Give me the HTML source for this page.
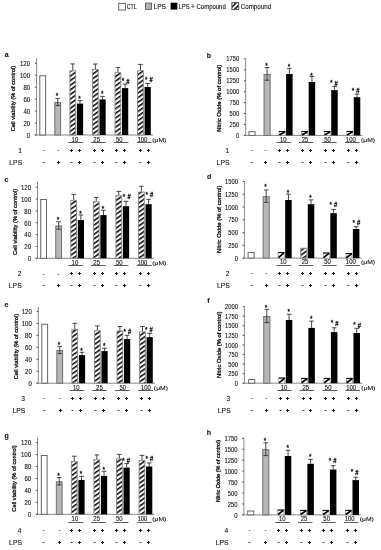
<!DOCTYPE html>
<html><head><meta charset="utf-8"><style>
html,body{margin:0;padding:0;background:#fff;}
svg{display:block;will-change:transform;}
text{font-family:"Liberation Sans", sans-serif;fill:#111;stroke:#111;stroke-width:0.1px;}
</style></head><body>
<svg width="381" height="550" viewBox="0 0 381 550">
<defs>
<pattern id="hatch" patternUnits="userSpaceOnUse" width="3.77" height="3.77" patternTransform="rotate(55)">
<rect x="0" y="0" width="3.77" height="3.77" fill="#fff"/>
<rect x="0" y="0" width="1.5" height="3.77" fill="#000"/>
</pattern>
<pattern id="hatch2" patternUnits="userSpaceOnUse" width="3.5" height="3.5" patternTransform="translate(231.9,2.6) rotate(45) translate(2.4,0)">
<rect x="0" y="0" width="3.5" height="3.5" fill="#fff"/>
<rect x="0" y="0" width="1.5" height="3.5" fill="#000"/>
</pattern>
</defs>
<rect width="381" height="550" fill="#fff"/>
<text x="4.80" y="57.20" font-size="7.0" font-weight="bold">a</text>
<line x1="36.60" y1="58.40" x2="36.60" y2="135.00" stroke="#888" stroke-width="1"/>
<line x1="34.60" y1="135.00" x2="152.98" y2="135.00" stroke="#888" stroke-width="1"/>
<line x1="34.90" y1="135.00" x2="36.60" y2="135.00" stroke="#555" stroke-width="1"/>
<text x="26.75" y="137.87" font-size="6.6" textLength="3.38" lengthAdjust="spacingAndGlyphs">0</text>
<line x1="34.90" y1="123.05" x2="36.60" y2="123.05" stroke="#555" stroke-width="1"/>
<text x="23.38" y="125.92" font-size="6.6" textLength="6.75" lengthAdjust="spacingAndGlyphs">20</text>
<line x1="34.90" y1="111.10" x2="36.60" y2="111.10" stroke="#555" stroke-width="1"/>
<text x="23.38" y="113.97" font-size="6.6" textLength="6.75" lengthAdjust="spacingAndGlyphs">40</text>
<line x1="34.90" y1="99.15" x2="36.60" y2="99.15" stroke="#555" stroke-width="1"/>
<text x="23.38" y="102.02" font-size="6.6" textLength="6.75" lengthAdjust="spacingAndGlyphs">60</text>
<line x1="34.90" y1="87.20" x2="36.60" y2="87.20" stroke="#555" stroke-width="1"/>
<text x="23.38" y="90.07" font-size="6.6" textLength="6.75" lengthAdjust="spacingAndGlyphs">80</text>
<line x1="34.90" y1="75.25" x2="36.60" y2="75.25" stroke="#555" stroke-width="1"/>
<text x="20.00" y="78.12" font-size="6.6" textLength="10.13" lengthAdjust="spacingAndGlyphs">100</text>
<line x1="34.90" y1="63.30" x2="36.60" y2="63.30" stroke="#555" stroke-width="1"/>
<text x="20.00" y="66.17" font-size="6.6" textLength="10.13" lengthAdjust="spacingAndGlyphs">120</text>
<text x="0" y="0" font-size="5.8" style="stroke-width:0.3px" text-anchor="middle" textLength="65.44" lengthAdjust="spacingAndGlyphs" transform="translate(15.46,98.50) rotate(-90)">Cell viability (% of control)</text>
<rect x="39.80" y="75.70" width="5.80" height="59.30" fill="#fff" stroke="#666" stroke-width="1"/>
<rect x="54.84" y="102.50" width="5.80" height="32.50" fill="#b6b6b6" stroke="#707070" stroke-width="1"/>
<line x1="57.74" y1="98.40" x2="57.74" y2="102.00" stroke="#333" stroke-width="0.9"/>
<line x1="55.44" y1="98.40" x2="60.04" y2="98.40" stroke="#333" stroke-width="0.9"/>
<line x1="57.74" y1="102.00" x2="57.74" y2="105.60" stroke="#333" stroke-width="0.9"/>
<line x1="55.44" y1="105.60" x2="60.04" y2="105.60" stroke="#333" stroke-width="0.9"/>
<text x="55.79" y="97.88" font-size="6.4" style="stroke-width:0.3px">*</text>
<rect x="69.88" y="70.80" width="5.80" height="64.20" fill="url(#hatch)" stroke="#888" stroke-width="0.9"/>
<line x1="72.78" y1="63.90" x2="72.78" y2="70.30" stroke="#333" stroke-width="0.9"/>
<line x1="70.48" y1="63.90" x2="75.08" y2="63.90" stroke="#333" stroke-width="0.9"/>
<rect x="76.90" y="103.60" width="6.20" height="31.40" fill="#000"/>
<line x1="80.00" y1="100.60" x2="80.00" y2="103.60" stroke="#333" stroke-width="0.9"/>
<line x1="77.70" y1="100.60" x2="82.30" y2="100.60" stroke="#333" stroke-width="0.9"/>
<text x="78.35" y="100.58" font-size="6.4" style="stroke-width:0.3px">*</text>
<text x="71.58" y="141.87" font-size="6.6" textLength="6.61" lengthAdjust="spacingAndGlyphs">10</text>
<line x1="68.20" y1="142.50" x2="83.00" y2="142.50" stroke="#333" stroke-width="0.8"/>
<path d="M69.90 150.00h3.2v1h-3.2zM71.00 148.90h1v3.2h-1z" fill="#1a1a1a"/>
<path d="M77.90 150.00h3.2v1h-3.2zM79.00 148.90h1v3.2h-1z" fill="#1a1a1a"/>
<rect x="70.55" y="162.00" width="1.90" height="1" fill="#404040"/>
<path d="M77.90 162.00h3.2v1h-3.2zM79.00 160.90h1v3.2h-1z" fill="#1a1a1a"/>
<rect x="92.44" y="69.50" width="5.80" height="65.50" fill="url(#hatch)" stroke="#888" stroke-width="0.9"/>
<line x1="95.34" y1="64.00" x2="95.34" y2="69.00" stroke="#333" stroke-width="0.9"/>
<line x1="93.04" y1="64.00" x2="97.64" y2="64.00" stroke="#333" stroke-width="0.9"/>
<rect x="99.46" y="99.40" width="6.20" height="35.60" fill="#000"/>
<line x1="102.56" y1="96.40" x2="102.56" y2="99.40" stroke="#333" stroke-width="0.9"/>
<line x1="100.26" y1="96.40" x2="104.86" y2="96.40" stroke="#333" stroke-width="0.9"/>
<text x="100.91" y="96.08" font-size="6.4" style="stroke-width:0.3px">*</text>
<text x="93.37" y="141.87" font-size="6.6" textLength="6.61" lengthAdjust="spacingAndGlyphs">25</text>
<line x1="90.90" y1="142.50" x2="105.70" y2="142.50" stroke="#333" stroke-width="0.8"/>
<path d="M92.90 150.00h3.2v1h-3.2zM94.00 148.90h1v3.2h-1z" fill="#1a1a1a"/>
<path d="M100.90 150.00h3.2v1h-3.2zM102.00 148.90h1v3.2h-1z" fill="#1a1a1a"/>
<rect x="93.55" y="162.00" width="1.90" height="1" fill="#404040"/>
<path d="M100.90 162.00h3.2v1h-3.2zM102.00 160.90h1v3.2h-1z" fill="#1a1a1a"/>
<rect x="115.00" y="72.70" width="5.80" height="62.30" fill="url(#hatch)" stroke="#888" stroke-width="0.9"/>
<line x1="117.90" y1="67.60" x2="117.90" y2="72.20" stroke="#333" stroke-width="0.9"/>
<line x1="115.60" y1="67.60" x2="120.20" y2="67.60" stroke="#333" stroke-width="0.9"/>
<rect x="122.02" y="88.10" width="6.20" height="46.90" fill="#000"/>
<line x1="125.12" y1="84.10" x2="125.12" y2="88.10" stroke="#333" stroke-width="0.9"/>
<line x1="122.82" y1="84.10" x2="127.42" y2="84.10" stroke="#333" stroke-width="0.9"/>
<text x="121.65" y="83.38" font-size="6.4" style="stroke-width:0.3px">*</text>
<text x="126.18" y="83.65" font-size="6.5" textLength="3.25" lengthAdjust="spacingAndGlyphs" style="stroke-width:0.3px">#</text>
<text x="115.99" y="141.87" font-size="6.6" textLength="6.61" lengthAdjust="spacingAndGlyphs">50</text>
<line x1="113.90" y1="142.50" x2="128.40" y2="142.50" stroke="#333" stroke-width="0.8"/>
<path d="M114.90 150.00h3.2v1h-3.2zM116.00 148.90h1v3.2h-1z" fill="#1a1a1a"/>
<path d="M122.90 150.00h3.2v1h-3.2zM124.00 148.90h1v3.2h-1z" fill="#1a1a1a"/>
<rect x="115.55" y="162.00" width="1.90" height="1" fill="#404040"/>
<path d="M122.90 162.00h3.2v1h-3.2zM124.00 160.90h1v3.2h-1z" fill="#1a1a1a"/>
<rect x="137.56" y="70.70" width="5.80" height="64.30" fill="url(#hatch)" stroke="#888" stroke-width="0.9"/>
<line x1="140.46" y1="64.40" x2="140.46" y2="70.20" stroke="#333" stroke-width="0.9"/>
<line x1="138.16" y1="64.40" x2="142.76" y2="64.40" stroke="#333" stroke-width="0.9"/>
<rect x="144.58" y="87.00" width="6.20" height="48.00" fill="#000"/>
<line x1="147.68" y1="83.50" x2="147.68" y2="87.00" stroke="#333" stroke-width="0.9"/>
<line x1="145.38" y1="83.50" x2="149.98" y2="83.50" stroke="#333" stroke-width="0.9"/>
<text x="144.95" y="81.58" font-size="6.4" style="stroke-width:0.3px">*</text>
<text x="149.48" y="81.85" font-size="6.5" textLength="3.25" lengthAdjust="spacingAndGlyphs" style="stroke-width:0.3px">#</text>
<text x="137.43" y="141.87" font-size="6.6" textLength="9.91" lengthAdjust="spacingAndGlyphs">100</text>
<line x1="136.90" y1="142.50" x2="151.70" y2="142.50" stroke="#333" stroke-width="0.8"/>
<path d="M138.90 150.00h3.2v1h-3.2zM140.00 148.90h1v3.2h-1z" fill="#1a1a1a"/>
<path d="M146.90 150.00h3.2v1h-3.2zM148.00 148.90h1v3.2h-1z" fill="#1a1a1a"/>
<rect x="139.55" y="162.00" width="1.90" height="1" fill="#404040"/>
<path d="M146.90 162.00h3.2v1h-3.2zM148.00 160.90h1v3.2h-1z" fill="#1a1a1a"/>
<text x="152.28" y="141.85" font-size="6.0" textLength="14.04" lengthAdjust="spacingAndGlyphs">(μM)</text>
<rect x="42.70" y="150.00" width="1.60" height="1" fill="#777"/>
<rect x="57.70" y="150.00" width="1.60" height="1" fill="#777"/>
<rect x="42.55" y="162.00" width="1.90" height="1" fill="#404040"/>
<path d="M56.90 162.00h3.2v1h-3.2zM58.00 160.90h1v3.2h-1z" fill="#1a1a1a"/>
<text x="18.15" y="152.57" font-size="6.6">1</text>
<text x="9.34" y="164.60" font-size="6.4" textLength="12.87" lengthAdjust="spacingAndGlyphs">LPS</text>
<text x="4.53" y="182.10" font-size="7.0" font-weight="bold">c</text>
<line x1="37.50" y1="181.70" x2="37.50" y2="258.30" stroke="#888" stroke-width="1"/>
<line x1="35.50" y1="258.30" x2="153.88" y2="258.30" stroke="#888" stroke-width="1"/>
<line x1="35.80" y1="258.30" x2="37.50" y2="258.30" stroke="#555" stroke-width="1"/>
<text x="27.65" y="261.17" font-size="6.6" textLength="3.38" lengthAdjust="spacingAndGlyphs">0</text>
<line x1="35.80" y1="246.45" x2="37.50" y2="246.45" stroke="#555" stroke-width="1"/>
<text x="24.28" y="249.32" font-size="6.6" textLength="6.75" lengthAdjust="spacingAndGlyphs">20</text>
<line x1="35.80" y1="234.60" x2="37.50" y2="234.60" stroke="#555" stroke-width="1"/>
<text x="24.28" y="237.47" font-size="6.6" textLength="6.75" lengthAdjust="spacingAndGlyphs">40</text>
<line x1="35.80" y1="222.75" x2="37.50" y2="222.75" stroke="#555" stroke-width="1"/>
<text x="24.28" y="225.63" font-size="6.6" textLength="6.75" lengthAdjust="spacingAndGlyphs">60</text>
<line x1="35.80" y1="210.91" x2="37.50" y2="210.91" stroke="#555" stroke-width="1"/>
<text x="24.28" y="213.78" font-size="6.6" textLength="6.75" lengthAdjust="spacingAndGlyphs">80</text>
<line x1="35.80" y1="199.06" x2="37.50" y2="199.06" stroke="#555" stroke-width="1"/>
<text x="20.90" y="201.93" font-size="6.6" textLength="10.13" lengthAdjust="spacingAndGlyphs">100</text>
<line x1="35.80" y1="187.21" x2="37.50" y2="187.21" stroke="#555" stroke-width="1"/>
<text x="20.90" y="190.08" font-size="6.6" textLength="10.13" lengthAdjust="spacingAndGlyphs">120</text>
<text x="0" y="0" font-size="5.8" style="stroke-width:0.3px" text-anchor="middle" textLength="66.25" lengthAdjust="spacingAndGlyphs" transform="translate(16.76,221.90) rotate(-90)">Cell viability (% of control)</text>
<rect x="40.70" y="199.50" width="5.80" height="58.80" fill="#fff" stroke="#666" stroke-width="1"/>
<rect x="55.74" y="226.00" width="5.80" height="32.30" fill="#b6b6b6" stroke="#707070" stroke-width="1"/>
<line x1="58.64" y1="221.80" x2="58.64" y2="225.50" stroke="#333" stroke-width="0.9"/>
<line x1="56.34" y1="221.80" x2="60.94" y2="221.80" stroke="#333" stroke-width="0.9"/>
<line x1="58.64" y1="225.50" x2="58.64" y2="229.20" stroke="#333" stroke-width="0.9"/>
<line x1="56.34" y1="229.20" x2="60.94" y2="229.20" stroke="#333" stroke-width="0.9"/>
<text x="56.69" y="221.68" font-size="6.4" style="stroke-width:0.3px">*</text>
<rect x="70.78" y="200.30" width="5.80" height="58.00" fill="url(#hatch)" stroke="#888" stroke-width="0.9"/>
<line x1="73.68" y1="194.40" x2="73.68" y2="199.80" stroke="#333" stroke-width="0.9"/>
<line x1="71.38" y1="194.40" x2="75.98" y2="194.40" stroke="#333" stroke-width="0.9"/>
<rect x="77.80" y="220.10" width="6.20" height="38.20" fill="#000"/>
<line x1="80.90" y1="215.00" x2="80.90" y2="220.10" stroke="#333" stroke-width="0.9"/>
<line x1="78.60" y1="215.00" x2="83.20" y2="215.00" stroke="#333" stroke-width="0.9"/>
<text x="79.25" y="215.98" font-size="6.4" style="stroke-width:0.3px">*</text>
<text x="71.58" y="264.97" font-size="6.6" textLength="6.61" lengthAdjust="spacingAndGlyphs">10</text>
<line x1="68.20" y1="265.50" x2="83.00" y2="265.50" stroke="#333" stroke-width="0.8"/>
<path d="M69.90 273.00h3.2v1h-3.2zM71.00 271.90h1v3.2h-1z" fill="#1a1a1a"/>
<path d="M77.90 273.00h3.2v1h-3.2zM79.00 271.90h1v3.2h-1z" fill="#1a1a1a"/>
<rect x="70.55" y="285.00" width="1.90" height="1" fill="#404040"/>
<path d="M77.90 285.00h3.2v1h-3.2zM79.00 283.90h1v3.2h-1z" fill="#1a1a1a"/>
<rect x="93.34" y="201.80" width="5.80" height="56.50" fill="url(#hatch)" stroke="#888" stroke-width="0.9"/>
<line x1="96.24" y1="197.40" x2="96.24" y2="201.30" stroke="#333" stroke-width="0.9"/>
<line x1="93.94" y1="197.40" x2="98.54" y2="197.40" stroke="#333" stroke-width="0.9"/>
<rect x="100.36" y="215.10" width="6.20" height="43.20" fill="#000"/>
<line x1="103.46" y1="210.30" x2="103.46" y2="215.10" stroke="#333" stroke-width="0.9"/>
<line x1="101.16" y1="210.30" x2="105.76" y2="210.30" stroke="#333" stroke-width="0.9"/>
<text x="101.81" y="210.88" font-size="6.4" style="stroke-width:0.3px">*</text>
<text x="93.37" y="264.97" font-size="6.6" textLength="6.61" lengthAdjust="spacingAndGlyphs">25</text>
<line x1="90.90" y1="265.50" x2="105.70" y2="265.50" stroke="#333" stroke-width="0.8"/>
<path d="M92.90 273.00h3.2v1h-3.2zM94.00 271.90h1v3.2h-1z" fill="#1a1a1a"/>
<path d="M100.90 273.00h3.2v1h-3.2zM102.00 271.90h1v3.2h-1z" fill="#1a1a1a"/>
<rect x="93.55" y="285.00" width="1.90" height="1" fill="#404040"/>
<path d="M100.90 285.00h3.2v1h-3.2zM102.00 283.90h1v3.2h-1z" fill="#1a1a1a"/>
<rect x="115.90" y="195.80" width="5.80" height="62.50" fill="url(#hatch)" stroke="#888" stroke-width="0.9"/>
<line x1="118.80" y1="191.40" x2="118.80" y2="195.30" stroke="#333" stroke-width="0.9"/>
<line x1="116.50" y1="191.40" x2="121.10" y2="191.40" stroke="#333" stroke-width="0.9"/>
<rect x="122.92" y="206.20" width="6.20" height="52.10" fill="#000"/>
<line x1="126.02" y1="201.30" x2="126.02" y2="206.20" stroke="#333" stroke-width="0.9"/>
<line x1="123.72" y1="201.30" x2="128.32" y2="201.30" stroke="#333" stroke-width="0.9"/>
<text x="122.85" y="199.08" font-size="6.4" style="stroke-width:0.3px">*</text>
<text x="127.38" y="199.35" font-size="6.5" textLength="3.25" lengthAdjust="spacingAndGlyphs" style="stroke-width:0.3px">#</text>
<text x="115.99" y="264.97" font-size="6.6" textLength="6.61" lengthAdjust="spacingAndGlyphs">50</text>
<line x1="113.90" y1="265.50" x2="128.40" y2="265.50" stroke="#333" stroke-width="0.8"/>
<path d="M114.90 273.00h3.2v1h-3.2zM116.00 271.90h1v3.2h-1z" fill="#1a1a1a"/>
<path d="M122.90 273.00h3.2v1h-3.2zM124.00 271.90h1v3.2h-1z" fill="#1a1a1a"/>
<rect x="115.55" y="285.00" width="1.90" height="1" fill="#404040"/>
<path d="M122.90 285.00h3.2v1h-3.2zM124.00 283.90h1v3.2h-1z" fill="#1a1a1a"/>
<rect x="138.46" y="192.00" width="5.80" height="66.30" fill="url(#hatch)" stroke="#888" stroke-width="0.9"/>
<line x1="141.36" y1="186.30" x2="141.36" y2="191.50" stroke="#333" stroke-width="0.9"/>
<line x1="139.06" y1="186.30" x2="143.66" y2="186.30" stroke="#333" stroke-width="0.9"/>
<rect x="145.48" y="204.20" width="6.20" height="54.10" fill="#000"/>
<line x1="148.58" y1="199.30" x2="148.58" y2="204.20" stroke="#333" stroke-width="0.9"/>
<line x1="146.28" y1="199.30" x2="150.88" y2="199.30" stroke="#333" stroke-width="0.9"/>
<text x="145.55" y="197.08" font-size="6.4" style="stroke-width:0.3px">*</text>
<text x="150.08" y="197.35" font-size="6.5" textLength="3.25" lengthAdjust="spacingAndGlyphs" style="stroke-width:0.3px">#</text>
<text x="137.43" y="264.97" font-size="6.6" textLength="9.91" lengthAdjust="spacingAndGlyphs">100</text>
<line x1="136.90" y1="265.50" x2="151.70" y2="265.50" stroke="#333" stroke-width="0.8"/>
<path d="M138.90 273.00h3.2v1h-3.2zM140.00 271.90h1v3.2h-1z" fill="#1a1a1a"/>
<path d="M146.90 273.00h3.2v1h-3.2zM148.00 271.90h1v3.2h-1z" fill="#1a1a1a"/>
<rect x="139.55" y="285.00" width="1.90" height="1" fill="#404040"/>
<path d="M146.90 285.00h3.2v1h-3.2zM148.00 283.90h1v3.2h-1z" fill="#1a1a1a"/>
<text x="152.28" y="264.95" font-size="6.0" textLength="14.04" lengthAdjust="spacingAndGlyphs">(μM)</text>
<rect x="42.70" y="274.00" width="1.60" height="1" fill="#777"/>
<rect x="57.70" y="274.00" width="1.60" height="1" fill="#777"/>
<rect x="42.55" y="285.00" width="1.90" height="1" fill="#404040"/>
<path d="M56.90 285.00h3.2v1h-3.2zM58.00 283.90h1v3.2h-1z" fill="#1a1a1a"/>
<text x="17.66" y="275.90" font-size="6.6">2</text>
<text x="8.84" y="287.90" font-size="6.4" textLength="12.87" lengthAdjust="spacingAndGlyphs">LPS</text>
<text x="4.53" y="306.80" font-size="7.0" font-weight="bold">e</text>
<line x1="38.30" y1="306.60" x2="38.30" y2="383.20" stroke="#888" stroke-width="1"/>
<line x1="36.30" y1="383.20" x2="154.98" y2="383.20" stroke="#888" stroke-width="1"/>
<line x1="36.60" y1="383.20" x2="38.30" y2="383.20" stroke="#555" stroke-width="1"/>
<text x="28.45" y="386.07" font-size="6.6" textLength="3.38" lengthAdjust="spacingAndGlyphs">0</text>
<line x1="36.60" y1="371.25" x2="38.30" y2="371.25" stroke="#555" stroke-width="1"/>
<text x="25.08" y="374.12" font-size="6.6" textLength="6.75" lengthAdjust="spacingAndGlyphs">20</text>
<line x1="36.60" y1="359.30" x2="38.30" y2="359.30" stroke="#555" stroke-width="1"/>
<text x="25.08" y="362.17" font-size="6.6" textLength="6.75" lengthAdjust="spacingAndGlyphs">40</text>
<line x1="36.60" y1="347.35" x2="38.30" y2="347.35" stroke="#555" stroke-width="1"/>
<text x="25.08" y="350.22" font-size="6.6" textLength="6.75" lengthAdjust="spacingAndGlyphs">60</text>
<line x1="36.60" y1="335.40" x2="38.30" y2="335.40" stroke="#555" stroke-width="1"/>
<text x="25.08" y="338.27" font-size="6.6" textLength="6.75" lengthAdjust="spacingAndGlyphs">80</text>
<line x1="36.60" y1="323.45" x2="38.30" y2="323.45" stroke="#555" stroke-width="1"/>
<text x="21.70" y="326.32" font-size="6.6" textLength="10.13" lengthAdjust="spacingAndGlyphs">100</text>
<line x1="36.60" y1="311.50" x2="38.30" y2="311.50" stroke="#555" stroke-width="1"/>
<text x="21.70" y="314.37" font-size="6.6" textLength="10.13" lengthAdjust="spacingAndGlyphs">120</text>
<text x="0" y="0" font-size="5.8" style="stroke-width:0.3px" text-anchor="middle" textLength="65.44" lengthAdjust="spacingAndGlyphs" transform="translate(17.96,346.50) rotate(-90)">Cell viability (% of control)</text>
<rect x="41.80" y="324.30" width="5.80" height="58.90" fill="#fff" stroke="#666" stroke-width="1"/>
<rect x="56.84" y="350.50" width="5.80" height="32.70" fill="#b6b6b6" stroke="#707070" stroke-width="1"/>
<line x1="59.74" y1="346.40" x2="59.74" y2="350.00" stroke="#333" stroke-width="0.9"/>
<line x1="57.44" y1="346.40" x2="62.04" y2="346.40" stroke="#333" stroke-width="0.9"/>
<line x1="59.74" y1="350.00" x2="59.74" y2="353.60" stroke="#333" stroke-width="0.9"/>
<line x1="57.44" y1="353.60" x2="62.04" y2="353.60" stroke="#333" stroke-width="0.9"/>
<text x="57.79" y="347.18" font-size="6.4" style="stroke-width:0.3px">*</text>
<rect x="71.88" y="329.30" width="5.80" height="53.90" fill="url(#hatch)" stroke="#888" stroke-width="0.9"/>
<line x1="74.78" y1="323.30" x2="74.78" y2="328.80" stroke="#333" stroke-width="0.9"/>
<line x1="72.48" y1="323.30" x2="77.08" y2="323.30" stroke="#333" stroke-width="0.9"/>
<rect x="78.90" y="355.10" width="6.20" height="28.10" fill="#000"/>
<line x1="82.00" y1="352.30" x2="82.00" y2="355.10" stroke="#333" stroke-width="0.9"/>
<line x1="79.70" y1="352.30" x2="84.30" y2="352.30" stroke="#333" stroke-width="0.9"/>
<text x="80.35" y="352.88" font-size="6.4" style="stroke-width:0.3px">*</text>
<text x="73.03" y="389.77" font-size="6.6" textLength="6.61" lengthAdjust="spacingAndGlyphs">10</text>
<line x1="69.50" y1="390.50" x2="84.30" y2="390.50" stroke="#333" stroke-width="0.8"/>
<path d="M70.90 398.00h3.2v1h-3.2zM72.00 396.90h1v3.2h-1z" fill="#1a1a1a"/>
<path d="M78.90 398.00h3.2v1h-3.2zM80.00 396.90h1v3.2h-1z" fill="#1a1a1a"/>
<rect x="71.55" y="410.00" width="1.90" height="1" fill="#404040"/>
<path d="M78.90 410.00h3.2v1h-3.2zM80.00 408.90h1v3.2h-1z" fill="#1a1a1a"/>
<rect x="94.44" y="330.70" width="5.80" height="52.50" fill="url(#hatch)" stroke="#888" stroke-width="0.9"/>
<line x1="97.34" y1="325.90" x2="97.34" y2="330.20" stroke="#333" stroke-width="0.9"/>
<line x1="95.04" y1="325.90" x2="99.64" y2="325.90" stroke="#333" stroke-width="0.9"/>
<rect x="101.46" y="351.10" width="6.20" height="32.10" fill="#000"/>
<line x1="104.56" y1="348.20" x2="104.56" y2="351.10" stroke="#333" stroke-width="0.9"/>
<line x1="102.26" y1="348.20" x2="106.86" y2="348.20" stroke="#333" stroke-width="0.9"/>
<text x="102.91" y="348.48" font-size="6.4" style="stroke-width:0.3px">*</text>
<text x="96.12" y="389.77" font-size="6.6" textLength="6.61" lengthAdjust="spacingAndGlyphs">25</text>
<line x1="92.20" y1="390.50" x2="106.70" y2="390.50" stroke="#333" stroke-width="0.8"/>
<path d="M93.90 398.00h3.2v1h-3.2zM95.00 396.90h1v3.2h-1z" fill="#1a1a1a"/>
<path d="M101.90 398.00h3.2v1h-3.2zM103.00 396.90h1v3.2h-1z" fill="#1a1a1a"/>
<rect x="94.55" y="410.00" width="1.90" height="1" fill="#404040"/>
<path d="M101.90 410.00h3.2v1h-3.2zM103.00 408.90h1v3.2h-1z" fill="#1a1a1a"/>
<rect x="117.00" y="330.90" width="5.80" height="52.30" fill="url(#hatch)" stroke="#888" stroke-width="0.9"/>
<line x1="119.90" y1="326.50" x2="119.90" y2="330.40" stroke="#333" stroke-width="0.9"/>
<line x1="117.60" y1="326.50" x2="122.20" y2="326.50" stroke="#333" stroke-width="0.9"/>
<rect x="124.02" y="339.10" width="6.20" height="44.10" fill="#000"/>
<line x1="127.12" y1="335.30" x2="127.12" y2="339.10" stroke="#333" stroke-width="0.9"/>
<line x1="124.82" y1="335.30" x2="129.42" y2="335.30" stroke="#333" stroke-width="0.9"/>
<text x="123.55" y="333.68" font-size="6.4" style="stroke-width:0.3px">*</text>
<text x="128.08" y="333.95" font-size="6.5" textLength="3.25" lengthAdjust="spacingAndGlyphs" style="stroke-width:0.3px">#</text>
<text x="119.44" y="389.77" font-size="6.6" textLength="6.61" lengthAdjust="spacingAndGlyphs">50</text>
<line x1="115.20" y1="390.50" x2="129.70" y2="390.50" stroke="#333" stroke-width="0.8"/>
<path d="M116.90 398.00h3.2v1h-3.2zM118.00 396.90h1v3.2h-1z" fill="#1a1a1a"/>
<path d="M124.90 398.00h3.2v1h-3.2zM126.00 396.90h1v3.2h-1z" fill="#1a1a1a"/>
<rect x="117.55" y="410.00" width="1.90" height="1" fill="#404040"/>
<path d="M124.90 410.00h3.2v1h-3.2zM126.00 408.90h1v3.2h-1z" fill="#1a1a1a"/>
<rect x="139.56" y="331.90" width="5.80" height="51.30" fill="url(#hatch)" stroke="#888" stroke-width="0.9"/>
<line x1="142.46" y1="326.50" x2="142.46" y2="331.40" stroke="#333" stroke-width="0.9"/>
<line x1="140.16" y1="326.50" x2="144.76" y2="326.50" stroke="#333" stroke-width="0.9"/>
<rect x="146.58" y="337.10" width="6.20" height="46.10" fill="#000"/>
<line x1="149.68" y1="333.30" x2="149.68" y2="337.10" stroke="#333" stroke-width="0.9"/>
<line x1="147.38" y1="333.30" x2="151.98" y2="333.30" stroke="#333" stroke-width="0.9"/>
<text x="145.05" y="331.98" font-size="6.4" style="stroke-width:0.3px">*</text>
<text x="149.58" y="332.25" font-size="6.5" textLength="3.25" lengthAdjust="spacingAndGlyphs" style="stroke-width:0.3px">#</text>
<text x="141.03" y="389.77" font-size="6.6" textLength="9.91" lengthAdjust="spacingAndGlyphs">100</text>
<line x1="138.20" y1="390.50" x2="153.30" y2="390.50" stroke="#333" stroke-width="0.8"/>
<path d="M139.90 398.00h3.2v1h-3.2zM141.00 396.90h1v3.2h-1z" fill="#1a1a1a"/>
<path d="M147.90 398.00h3.2v1h-3.2zM149.00 396.90h1v3.2h-1z" fill="#1a1a1a"/>
<rect x="140.55" y="410.00" width="1.90" height="1" fill="#404040"/>
<path d="M147.90 410.00h3.2v1h-3.2zM149.00 408.90h1v3.2h-1z" fill="#1a1a1a"/>
<text x="153.88" y="389.75" font-size="6.0" textLength="14.04" lengthAdjust="spacingAndGlyphs">(μM)</text>
<rect x="43.70" y="398.00" width="1.60" height="1" fill="#777"/>
<rect x="59.70" y="398.00" width="1.60" height="1" fill="#777"/>
<rect x="43.55" y="410.00" width="1.90" height="1" fill="#404040"/>
<path d="M58.90 410.00h3.2v1h-3.2zM60.00 408.90h1v3.2h-1z" fill="#1a1a1a"/>
<text x="21.21" y="400.77" font-size="6.6">3</text>
<text x="12.44" y="412.80" font-size="6.4" textLength="12.87" lengthAdjust="spacingAndGlyphs">LPS</text>
<text x="4.51" y="437.60" font-size="7.0" font-weight="bold">g</text>
<line x1="37.60" y1="437.70" x2="37.60" y2="514.30" stroke="#888" stroke-width="1"/>
<line x1="35.60" y1="514.30" x2="154.48" y2="514.30" stroke="#888" stroke-width="1"/>
<line x1="35.90" y1="514.30" x2="37.60" y2="514.30" stroke="#555" stroke-width="1"/>
<text x="27.75" y="517.17" font-size="6.6" textLength="3.38" lengthAdjust="spacingAndGlyphs">0</text>
<line x1="35.90" y1="502.35" x2="37.60" y2="502.35" stroke="#555" stroke-width="1"/>
<text x="24.38" y="505.22" font-size="6.6" textLength="6.75" lengthAdjust="spacingAndGlyphs">20</text>
<line x1="35.90" y1="490.40" x2="37.60" y2="490.40" stroke="#555" stroke-width="1"/>
<text x="24.38" y="493.27" font-size="6.6" textLength="6.75" lengthAdjust="spacingAndGlyphs">40</text>
<line x1="35.90" y1="478.45" x2="37.60" y2="478.45" stroke="#555" stroke-width="1"/>
<text x="24.38" y="481.32" font-size="6.6" textLength="6.75" lengthAdjust="spacingAndGlyphs">60</text>
<line x1="35.90" y1="466.50" x2="37.60" y2="466.50" stroke="#555" stroke-width="1"/>
<text x="24.38" y="469.37" font-size="6.6" textLength="6.75" lengthAdjust="spacingAndGlyphs">80</text>
<line x1="35.90" y1="454.55" x2="37.60" y2="454.55" stroke="#555" stroke-width="1"/>
<text x="21.00" y="457.42" font-size="6.6" textLength="10.13" lengthAdjust="spacingAndGlyphs">100</text>
<line x1="35.90" y1="442.60" x2="37.60" y2="442.60" stroke="#555" stroke-width="1"/>
<text x="21.00" y="445.47" font-size="6.6" textLength="10.13" lengthAdjust="spacingAndGlyphs">120</text>
<text x="0" y="0" font-size="5.8" style="stroke-width:0.3px" text-anchor="middle" textLength="66.35" lengthAdjust="spacingAndGlyphs" transform="translate(15.71,478.50) rotate(-90)">Cell viability (% of control)</text>
<rect x="41.30" y="455.50" width="5.80" height="58.80" fill="#fff" stroke="#666" stroke-width="1"/>
<rect x="56.34" y="481.80" width="5.80" height="32.50" fill="#b6b6b6" stroke="#707070" stroke-width="1"/>
<line x1="59.24" y1="477.60" x2="59.24" y2="481.30" stroke="#333" stroke-width="0.9"/>
<line x1="56.94" y1="477.60" x2="61.54" y2="477.60" stroke="#333" stroke-width="0.9"/>
<line x1="59.24" y1="481.30" x2="59.24" y2="485.00" stroke="#333" stroke-width="0.9"/>
<line x1="56.94" y1="485.00" x2="61.54" y2="485.00" stroke="#333" stroke-width="0.9"/>
<text x="57.29" y="478.18" font-size="6.4" style="stroke-width:0.3px">*</text>
<rect x="71.38" y="461.60" width="5.80" height="52.70" fill="url(#hatch)" stroke="#888" stroke-width="0.9"/>
<line x1="74.28" y1="456.20" x2="74.28" y2="461.10" stroke="#333" stroke-width="0.9"/>
<line x1="71.98" y1="456.20" x2="76.58" y2="456.20" stroke="#333" stroke-width="0.9"/>
<rect x="78.40" y="480.00" width="6.20" height="34.30" fill="#000"/>
<line x1="81.50" y1="476.30" x2="81.50" y2="480.00" stroke="#333" stroke-width="0.9"/>
<line x1="79.20" y1="476.30" x2="83.80" y2="476.30" stroke="#333" stroke-width="0.9"/>
<text x="79.85" y="476.28" font-size="6.4" style="stroke-width:0.3px">*</text>
<text x="71.58" y="521.27" font-size="6.6" textLength="6.61" lengthAdjust="spacingAndGlyphs">10</text>
<line x1="68.20" y1="522.50" x2="83.00" y2="522.50" stroke="#333" stroke-width="0.8"/>
<path d="M69.90 530.00h3.2v1h-3.2zM71.00 528.90h1v3.2h-1z" fill="#1a1a1a"/>
<path d="M77.90 530.00h3.2v1h-3.2zM79.00 528.90h1v3.2h-1z" fill="#1a1a1a"/>
<rect x="70.55" y="542.00" width="1.90" height="1" fill="#404040"/>
<path d="M77.90 542.00h3.2v1h-3.2zM79.00 540.90h1v3.2h-1z" fill="#1a1a1a"/>
<rect x="93.94" y="459.80" width="5.80" height="54.50" fill="url(#hatch)" stroke="#888" stroke-width="0.9"/>
<line x1="96.84" y1="454.90" x2="96.84" y2="459.30" stroke="#333" stroke-width="0.9"/>
<line x1="94.54" y1="454.90" x2="99.14" y2="454.90" stroke="#333" stroke-width="0.9"/>
<rect x="100.96" y="475.90" width="6.20" height="38.40" fill="#000"/>
<line x1="104.06" y1="471.30" x2="104.06" y2="475.90" stroke="#333" stroke-width="0.9"/>
<line x1="101.76" y1="471.30" x2="106.36" y2="471.30" stroke="#333" stroke-width="0.9"/>
<text x="102.41" y="471.78" font-size="6.4" style="stroke-width:0.3px">*</text>
<text x="93.37" y="521.27" font-size="6.6" textLength="6.61" lengthAdjust="spacingAndGlyphs">25</text>
<line x1="90.90" y1="522.50" x2="105.70" y2="522.50" stroke="#333" stroke-width="0.8"/>
<path d="M92.90 530.00h3.2v1h-3.2zM94.00 528.90h1v3.2h-1z" fill="#1a1a1a"/>
<path d="M100.90 530.00h3.2v1h-3.2zM102.00 528.90h1v3.2h-1z" fill="#1a1a1a"/>
<rect x="93.55" y="542.00" width="1.90" height="1" fill="#404040"/>
<path d="M100.90 542.00h3.2v1h-3.2zM102.00 540.90h1v3.2h-1z" fill="#1a1a1a"/>
<rect x="116.50" y="458.90" width="5.80" height="55.40" fill="url(#hatch)" stroke="#888" stroke-width="0.9"/>
<line x1="119.40" y1="454.40" x2="119.40" y2="458.40" stroke="#333" stroke-width="0.9"/>
<line x1="117.10" y1="454.40" x2="121.70" y2="454.40" stroke="#333" stroke-width="0.9"/>
<rect x="123.52" y="467.60" width="6.20" height="46.70" fill="#000"/>
<line x1="126.62" y1="463.60" x2="126.62" y2="467.60" stroke="#333" stroke-width="0.9"/>
<line x1="124.32" y1="463.60" x2="128.92" y2="463.60" stroke="#333" stroke-width="0.9"/>
<text x="122.15" y="462.78" font-size="6.4" style="stroke-width:0.3px">*</text>
<text x="126.68" y="463.05" font-size="6.5" textLength="3.25" lengthAdjust="spacingAndGlyphs" style="stroke-width:0.3px">#</text>
<text x="115.99" y="521.27" font-size="6.6" textLength="6.61" lengthAdjust="spacingAndGlyphs">50</text>
<line x1="113.90" y1="522.50" x2="128.40" y2="522.50" stroke="#333" stroke-width="0.8"/>
<path d="M114.90 530.00h3.2v1h-3.2zM116.00 528.90h1v3.2h-1z" fill="#1a1a1a"/>
<path d="M122.90 530.00h3.2v1h-3.2zM124.00 528.90h1v3.2h-1z" fill="#1a1a1a"/>
<rect x="115.55" y="542.00" width="1.90" height="1" fill="#404040"/>
<path d="M122.90 542.00h3.2v1h-3.2zM124.00 540.90h1v3.2h-1z" fill="#1a1a1a"/>
<rect x="139.06" y="460.60" width="5.80" height="53.70" fill="url(#hatch)" stroke="#888" stroke-width="0.9"/>
<line x1="141.96" y1="455.40" x2="141.96" y2="460.10" stroke="#333" stroke-width="0.9"/>
<line x1="139.66" y1="455.40" x2="144.26" y2="455.40" stroke="#333" stroke-width="0.9"/>
<rect x="146.08" y="466.50" width="6.20" height="47.80" fill="#000"/>
<line x1="149.18" y1="463.00" x2="149.18" y2="466.50" stroke="#333" stroke-width="0.9"/>
<line x1="146.88" y1="463.00" x2="151.48" y2="463.00" stroke="#333" stroke-width="0.9"/>
<text x="145.45" y="461.08" font-size="6.4" style="stroke-width:0.3px">*</text>
<text x="149.98" y="461.35" font-size="6.5" textLength="3.25" lengthAdjust="spacingAndGlyphs" style="stroke-width:0.3px">#</text>
<text x="137.43" y="521.27" font-size="6.6" textLength="9.91" lengthAdjust="spacingAndGlyphs">100</text>
<line x1="136.90" y1="522.50" x2="151.70" y2="522.50" stroke="#333" stroke-width="0.8"/>
<path d="M138.90 530.00h3.2v1h-3.2zM140.00 528.90h1v3.2h-1z" fill="#1a1a1a"/>
<path d="M146.90 530.00h3.2v1h-3.2zM148.00 528.90h1v3.2h-1z" fill="#1a1a1a"/>
<rect x="139.55" y="542.00" width="1.90" height="1" fill="#404040"/>
<path d="M146.90 542.00h3.2v1h-3.2zM148.00 540.90h1v3.2h-1z" fill="#1a1a1a"/>
<text x="152.28" y="521.25" font-size="6.0" textLength="14.04" lengthAdjust="spacingAndGlyphs">(μM)</text>
<rect x="42.70" y="530.00" width="1.60" height="1" fill="#777"/>
<rect x="58.70" y="530.00" width="1.60" height="1" fill="#777"/>
<rect x="42.55" y="542.00" width="1.90" height="1" fill="#404040"/>
<path d="M57.90 542.00h3.2v1h-3.2zM59.00 540.90h1v3.2h-1z" fill="#1a1a1a"/>
<text x="17.82" y="532.57" font-size="6.6">4</text>
<text x="9.14" y="544.50" font-size="6.4" textLength="12.87" lengthAdjust="spacingAndGlyphs">LPS</text>
<text x="206.74" y="57.70" font-size="7.0" font-weight="bold">b</text>
<line x1="245.70" y1="58.80" x2="245.70" y2="135.40" stroke="#888" stroke-width="1"/>
<line x1="243.70" y1="135.40" x2="362.48" y2="135.40" stroke="#888" stroke-width="1"/>
<line x1="244.00" y1="135.40" x2="245.70" y2="135.40" stroke="#555" stroke-width="1"/>
<text x="236.01" y="138.04" font-size="6.8" textLength="3.21" lengthAdjust="spacingAndGlyphs">0</text>
<line x1="244.00" y1="124.46" x2="245.70" y2="124.46" stroke="#555" stroke-width="1"/>
<text x="229.58" y="127.10" font-size="6.8" textLength="9.64" lengthAdjust="spacingAndGlyphs">250</text>
<line x1="244.00" y1="113.51" x2="245.70" y2="113.51" stroke="#555" stroke-width="1"/>
<text x="229.58" y="116.15" font-size="6.8" textLength="9.64" lengthAdjust="spacingAndGlyphs">500</text>
<line x1="244.00" y1="102.57" x2="245.70" y2="102.57" stroke="#555" stroke-width="1"/>
<text x="229.58" y="105.21" font-size="6.8" textLength="9.64" lengthAdjust="spacingAndGlyphs">750</text>
<line x1="244.00" y1="91.63" x2="245.70" y2="91.63" stroke="#555" stroke-width="1"/>
<text x="226.36" y="94.27" font-size="6.8" textLength="12.86" lengthAdjust="spacingAndGlyphs">1000</text>
<line x1="244.00" y1="80.69" x2="245.70" y2="80.69" stroke="#555" stroke-width="1"/>
<text x="226.36" y="83.32" font-size="6.8" textLength="12.86" lengthAdjust="spacingAndGlyphs">1250</text>
<line x1="244.00" y1="69.74" x2="245.70" y2="69.74" stroke="#555" stroke-width="1"/>
<text x="226.36" y="72.38" font-size="6.8" textLength="12.86" lengthAdjust="spacingAndGlyphs">1500</text>
<line x1="244.00" y1="58.80" x2="245.70" y2="58.80" stroke="#555" stroke-width="1"/>
<text x="226.36" y="61.44" font-size="6.8" textLength="12.86" lengthAdjust="spacingAndGlyphs">1750</text>
<text x="0" y="0" font-size="5.8" style="stroke-width:0.3px" text-anchor="middle" textLength="67.05" lengthAdjust="spacingAndGlyphs" transform="translate(221.26,98.25) rotate(-90)">Nitric Oxide (% of control)</text>
<rect x="249.00" y="131.70" width="6.10" height="3.70" fill="#fff" stroke="#666" stroke-width="1"/>
<rect x="264.04" y="74.40" width="6.10" height="61.00" fill="#b6b6b6" stroke="#707070" stroke-width="1"/>
<line x1="267.09" y1="67.60" x2="267.09" y2="73.90" stroke="#333" stroke-width="0.9"/>
<line x1="264.79" y1="67.60" x2="269.39" y2="67.60" stroke="#333" stroke-width="0.9"/>
<line x1="267.09" y1="73.90" x2="267.09" y2="80.20" stroke="#333" stroke-width="0.9"/>
<line x1="264.79" y1="80.20" x2="269.39" y2="80.20" stroke="#333" stroke-width="0.9"/>
<text x="265.14" y="68.08" font-size="6.4" style="stroke-width:0.3px">*</text>
<rect x="279.08" y="131.50" width="6.10" height="3.90" fill="#fff" stroke="#999" stroke-width="0.8"/>
<line x1="278.88" y1="131.50" x2="285.38" y2="131.50" stroke="#111" stroke-width="1.1"/>
<line x1="279.38" y1="135.00" x2="284.68" y2="131.90" stroke="#000" stroke-width="1.7"/>
<rect x="286.10" y="74.00" width="6.50" height="61.40" fill="#000"/>
<line x1="289.35" y1="68.40" x2="289.35" y2="74.00" stroke="#333" stroke-width="0.9"/>
<line x1="287.05" y1="68.40" x2="291.65" y2="68.40" stroke="#333" stroke-width="0.9"/>
<text x="287.70" y="68.88" font-size="6.4" style="stroke-width:0.3px">*</text>
<text x="279.88" y="141.67" font-size="6.6" textLength="6.61" lengthAdjust="spacingAndGlyphs">10</text>
<line x1="276.60" y1="142.50" x2="291.00" y2="142.50" stroke="#333" stroke-width="0.8"/>
<path d="M277.90 150.00h3.2v1h-3.2zM279.00 148.90h1v3.2h-1z" fill="#1a1a1a"/>
<path d="M285.90 150.00h3.2v1h-3.2zM287.00 148.90h1v3.2h-1z" fill="#1a1a1a"/>
<rect x="278.55" y="162.00" width="1.90" height="1" fill="#404040"/>
<path d="M285.90 162.00h3.2v1h-3.2zM287.00 160.90h1v3.2h-1z" fill="#1a1a1a"/>
<rect x="301.64" y="131.50" width="6.10" height="3.90" fill="#fff" stroke="#999" stroke-width="0.8"/>
<line x1="301.44" y1="131.50" x2="307.94" y2="131.50" stroke="#111" stroke-width="1.1"/>
<line x1="301.94" y1="135.00" x2="307.24" y2="131.90" stroke="#000" stroke-width="1.7"/>
<rect x="308.66" y="82.00" width="6.50" height="53.40" fill="#000"/>
<line x1="311.91" y1="76.40" x2="311.91" y2="82.00" stroke="#333" stroke-width="0.9"/>
<line x1="309.61" y1="76.40" x2="314.21" y2="76.40" stroke="#333" stroke-width="0.9"/>
<text x="310.26" y="77.68" font-size="6.4" style="stroke-width:0.3px">*</text>
<text x="301.67" y="141.67" font-size="6.6" textLength="6.61" lengthAdjust="spacingAndGlyphs">25</text>
<line x1="298.90" y1="142.50" x2="313.30" y2="142.50" stroke="#333" stroke-width="0.8"/>
<path d="M300.90 150.00h3.2v1h-3.2zM302.00 148.90h1v3.2h-1z" fill="#1a1a1a"/>
<path d="M308.90 150.00h3.2v1h-3.2zM310.00 148.90h1v3.2h-1z" fill="#1a1a1a"/>
<rect x="301.55" y="162.00" width="1.90" height="1" fill="#404040"/>
<path d="M308.90 162.00h3.2v1h-3.2zM310.00 160.90h1v3.2h-1z" fill="#1a1a1a"/>
<rect x="324.20" y="131.50" width="6.10" height="3.90" fill="#fff" stroke="#999" stroke-width="0.8"/>
<line x1="324.00" y1="131.50" x2="330.50" y2="131.50" stroke="#111" stroke-width="1.1"/>
<line x1="324.50" y1="135.00" x2="329.80" y2="131.90" stroke="#000" stroke-width="1.7"/>
<rect x="331.22" y="90.10" width="6.50" height="45.30" fill="#000"/>
<line x1="334.47" y1="86.40" x2="334.47" y2="90.10" stroke="#333" stroke-width="0.9"/>
<line x1="332.17" y1="86.40" x2="336.77" y2="86.40" stroke="#333" stroke-width="0.9"/>
<text x="329.95" y="85.48" font-size="6.4" style="stroke-width:0.3px">*</text>
<text x="334.48" y="85.75" font-size="6.5" textLength="3.25" lengthAdjust="spacingAndGlyphs" style="stroke-width:0.3px">#</text>
<text x="324.29" y="141.67" font-size="6.6" textLength="6.61" lengthAdjust="spacingAndGlyphs">50</text>
<line x1="322.20" y1="142.50" x2="336.60" y2="142.50" stroke="#333" stroke-width="0.8"/>
<path d="M323.90 150.00h3.2v1h-3.2zM325.00 148.90h1v3.2h-1z" fill="#1a1a1a"/>
<path d="M331.90 150.00h3.2v1h-3.2zM333.00 148.90h1v3.2h-1z" fill="#1a1a1a"/>
<rect x="324.55" y="162.00" width="1.90" height="1" fill="#404040"/>
<path d="M331.90 162.00h3.2v1h-3.2zM333.00 160.90h1v3.2h-1z" fill="#1a1a1a"/>
<rect x="346.76" y="131.50" width="6.10" height="3.90" fill="#fff" stroke="#999" stroke-width="0.8"/>
<line x1="346.56" y1="131.50" x2="353.06" y2="131.50" stroke="#111" stroke-width="1.1"/>
<line x1="347.06" y1="135.00" x2="352.36" y2="131.90" stroke="#000" stroke-width="1.7"/>
<rect x="353.78" y="97.20" width="6.50" height="38.20" fill="#000"/>
<line x1="357.03" y1="94.10" x2="357.03" y2="97.20" stroke="#333" stroke-width="0.9"/>
<line x1="354.73" y1="94.10" x2="359.33" y2="94.10" stroke="#333" stroke-width="0.9"/>
<text x="351.75" y="92.58" font-size="6.4" style="stroke-width:0.3px">*</text>
<text x="356.28" y="92.85" font-size="6.5" textLength="3.25" lengthAdjust="spacingAndGlyphs" style="stroke-width:0.3px">#</text>
<text x="345.83" y="141.67" font-size="6.6" textLength="9.91" lengthAdjust="spacingAndGlyphs">100</text>
<line x1="344.90" y1="142.50" x2="359.70" y2="142.50" stroke="#333" stroke-width="0.8"/>
<path d="M346.90 150.00h3.2v1h-3.2zM348.00 148.90h1v3.2h-1z" fill="#1a1a1a"/>
<path d="M354.90 150.00h3.2v1h-3.2zM356.00 148.90h1v3.2h-1z" fill="#1a1a1a"/>
<rect x="347.55" y="162.00" width="1.90" height="1" fill="#404040"/>
<path d="M354.90 162.00h3.2v1h-3.2zM356.00 160.90h1v3.2h-1z" fill="#1a1a1a"/>
<text x="361.08" y="141.65" font-size="6.0" textLength="14.04" lengthAdjust="spacingAndGlyphs">(μM)</text>
<rect x="250.70" y="150.00" width="1.60" height="1" fill="#777"/>
<rect x="264.70" y="150.00" width="1.60" height="1" fill="#777"/>
<rect x="250.55" y="162.00" width="1.90" height="1" fill="#404040"/>
<path d="M263.90 162.00h3.2v1h-3.2zM265.00 160.90h1v3.2h-1z" fill="#1a1a1a"/>
<text x="225.45" y="152.77" font-size="6.6">1</text>
<text x="216.64" y="164.50" font-size="6.4" textLength="12.87" lengthAdjust="spacingAndGlyphs">LPS</text>
<text x="207.01" y="179.10" font-size="7.0" font-weight="bold">d</text>
<line x1="244.40" y1="181.50" x2="244.40" y2="258.10" stroke="#888" stroke-width="1"/>
<line x1="242.40" y1="258.10" x2="361.58" y2="258.10" stroke="#888" stroke-width="1"/>
<line x1="242.70" y1="258.10" x2="244.40" y2="258.10" stroke="#555" stroke-width="1"/>
<text x="234.71" y="260.74" font-size="6.8" textLength="3.21" lengthAdjust="spacingAndGlyphs">0</text>
<line x1="242.70" y1="245.33" x2="244.40" y2="245.33" stroke="#555" stroke-width="1"/>
<text x="228.28" y="247.97" font-size="6.8" textLength="9.64" lengthAdjust="spacingAndGlyphs">250</text>
<line x1="242.70" y1="232.57" x2="244.40" y2="232.57" stroke="#555" stroke-width="1"/>
<text x="228.28" y="235.21" font-size="6.8" textLength="9.64" lengthAdjust="spacingAndGlyphs">500</text>
<line x1="242.70" y1="219.80" x2="244.40" y2="219.80" stroke="#555" stroke-width="1"/>
<text x="228.28" y="222.44" font-size="6.8" textLength="9.64" lengthAdjust="spacingAndGlyphs">750</text>
<line x1="242.70" y1="207.03" x2="244.40" y2="207.03" stroke="#555" stroke-width="1"/>
<text x="225.06" y="209.67" font-size="6.8" textLength="12.86" lengthAdjust="spacingAndGlyphs">1000</text>
<line x1="242.70" y1="194.27" x2="244.40" y2="194.27" stroke="#555" stroke-width="1"/>
<text x="225.06" y="196.91" font-size="6.8" textLength="12.86" lengthAdjust="spacingAndGlyphs">1250</text>
<line x1="242.70" y1="181.50" x2="244.40" y2="181.50" stroke="#555" stroke-width="1"/>
<text x="225.06" y="184.14" font-size="6.8" textLength="12.86" lengthAdjust="spacingAndGlyphs">1500</text>
<text x="0" y="0" font-size="5.8" style="stroke-width:0.3px" text-anchor="middle" textLength="67.35" lengthAdjust="spacingAndGlyphs" transform="translate(220.86,219.30) rotate(-90)">Nitric Oxide (% of control)</text>
<rect x="248.10" y="252.50" width="6.10" height="5.60" fill="#fff" stroke="#666" stroke-width="1"/>
<rect x="263.14" y="196.70" width="6.10" height="61.40" fill="#b6b6b6" stroke="#707070" stroke-width="1"/>
<line x1="266.19" y1="190.00" x2="266.19" y2="196.20" stroke="#333" stroke-width="0.9"/>
<line x1="263.89" y1="190.00" x2="268.49" y2="190.00" stroke="#333" stroke-width="0.9"/>
<line x1="266.19" y1="196.20" x2="266.19" y2="202.40" stroke="#333" stroke-width="0.9"/>
<line x1="263.89" y1="202.40" x2="268.49" y2="202.40" stroke="#333" stroke-width="0.9"/>
<text x="264.24" y="189.28" font-size="6.4" style="stroke-width:0.3px">*</text>
<rect x="278.18" y="252.50" width="6.10" height="5.60" fill="#fff" stroke="#999" stroke-width="0.8"/>
<line x1="277.98" y1="252.50" x2="284.48" y2="252.50" stroke="#111" stroke-width="1.1"/>
<line x1="278.48" y1="257.70" x2="283.78" y2="252.90" stroke="#000" stroke-width="1.7"/>
<rect x="285.20" y="200.00" width="6.50" height="58.10" fill="#000"/>
<line x1="288.45" y1="194.10" x2="288.45" y2="200.00" stroke="#333" stroke-width="0.9"/>
<line x1="286.15" y1="194.10" x2="290.75" y2="194.10" stroke="#333" stroke-width="0.9"/>
<text x="286.80" y="194.78" font-size="6.4" style="stroke-width:0.3px">*</text>
<text x="279.88" y="264.37" font-size="6.6" textLength="6.61" lengthAdjust="spacingAndGlyphs">10</text>
<line x1="276.60" y1="265.50" x2="291.00" y2="265.50" stroke="#333" stroke-width="0.8"/>
<path d="M277.90 273.00h3.2v1h-3.2zM279.00 271.90h1v3.2h-1z" fill="#1a1a1a"/>
<path d="M285.90 273.00h3.2v1h-3.2zM287.00 271.90h1v3.2h-1z" fill="#1a1a1a"/>
<rect x="278.55" y="285.00" width="1.90" height="1" fill="#404040"/>
<path d="M285.90 285.00h3.2v1h-3.2zM287.00 283.90h1v3.2h-1z" fill="#1a1a1a"/>
<rect x="300.74" y="248.20" width="6.10" height="9.90" fill="url(#hatch)" stroke="#888" stroke-width="0.9"/>
<rect x="307.76" y="204.20" width="6.50" height="53.90" fill="#000"/>
<line x1="311.01" y1="199.90" x2="311.01" y2="204.20" stroke="#333" stroke-width="0.9"/>
<line x1="308.71" y1="199.90" x2="313.31" y2="199.90" stroke="#333" stroke-width="0.9"/>
<text x="309.36" y="199.68" font-size="6.4" style="stroke-width:0.3px">*</text>
<text x="301.67" y="264.37" font-size="6.6" textLength="6.61" lengthAdjust="spacingAndGlyphs">25</text>
<line x1="298.90" y1="265.50" x2="313.30" y2="265.50" stroke="#333" stroke-width="0.8"/>
<path d="M300.90 273.00h3.2v1h-3.2zM302.00 271.90h1v3.2h-1z" fill="#1a1a1a"/>
<path d="M308.90 273.00h3.2v1h-3.2zM310.00 271.90h1v3.2h-1z" fill="#1a1a1a"/>
<rect x="301.55" y="285.00" width="1.90" height="1" fill="#404040"/>
<path d="M308.90 285.00h3.2v1h-3.2zM310.00 283.90h1v3.2h-1z" fill="#1a1a1a"/>
<rect x="323.30" y="253.00" width="6.10" height="5.10" fill="#fff" stroke="#999" stroke-width="0.8"/>
<line x1="323.10" y1="253.00" x2="329.60" y2="253.00" stroke="#111" stroke-width="1.1"/>
<line x1="323.60" y1="257.70" x2="328.90" y2="253.40" stroke="#000" stroke-width="1.7"/>
<rect x="330.32" y="213.20" width="6.50" height="44.90" fill="#000"/>
<line x1="333.57" y1="209.40" x2="333.57" y2="213.20" stroke="#333" stroke-width="0.9"/>
<line x1="331.27" y1="209.40" x2="335.87" y2="209.40" stroke="#333" stroke-width="0.9"/>
<text x="329.45" y="206.98" font-size="6.4" style="stroke-width:0.3px">*</text>
<text x="333.98" y="207.25" font-size="6.5" textLength="3.25" lengthAdjust="spacingAndGlyphs" style="stroke-width:0.3px">#</text>
<text x="324.29" y="264.37" font-size="6.6" textLength="6.61" lengthAdjust="spacingAndGlyphs">50</text>
<line x1="322.20" y1="265.50" x2="336.60" y2="265.50" stroke="#333" stroke-width="0.8"/>
<path d="M323.90 273.00h3.2v1h-3.2zM325.00 271.90h1v3.2h-1z" fill="#1a1a1a"/>
<path d="M331.90 273.00h3.2v1h-3.2zM333.00 271.90h1v3.2h-1z" fill="#1a1a1a"/>
<rect x="324.55" y="285.00" width="1.90" height="1" fill="#404040"/>
<path d="M331.90 285.00h3.2v1h-3.2zM333.00 283.90h1v3.2h-1z" fill="#1a1a1a"/>
<rect x="345.86" y="253.60" width="6.10" height="4.50" fill="#fff" stroke="#999" stroke-width="0.8"/>
<line x1="345.66" y1="253.60" x2="352.16" y2="253.60" stroke="#111" stroke-width="1.1"/>
<line x1="346.16" y1="257.70" x2="351.46" y2="254.00" stroke="#000" stroke-width="1.7"/>
<rect x="352.88" y="229.00" width="6.50" height="29.10" fill="#000"/>
<line x1="356.13" y1="226.70" x2="356.13" y2="229.00" stroke="#333" stroke-width="0.9"/>
<line x1="353.83" y1="226.70" x2="358.43" y2="226.70" stroke="#333" stroke-width="0.9"/>
<text x="352.45" y="225.18" font-size="6.4" style="stroke-width:0.3px">*</text>
<text x="356.98" y="225.45" font-size="6.5" textLength="3.25" lengthAdjust="spacingAndGlyphs" style="stroke-width:0.3px">#</text>
<text x="345.83" y="264.37" font-size="6.6" textLength="9.91" lengthAdjust="spacingAndGlyphs">100</text>
<line x1="344.90" y1="265.50" x2="359.70" y2="265.50" stroke="#333" stroke-width="0.8"/>
<path d="M346.90 273.00h3.2v1h-3.2zM348.00 271.90h1v3.2h-1z" fill="#1a1a1a"/>
<path d="M354.90 273.00h3.2v1h-3.2zM356.00 271.90h1v3.2h-1z" fill="#1a1a1a"/>
<rect x="347.55" y="285.00" width="1.90" height="1" fill="#404040"/>
<path d="M354.90 285.00h3.2v1h-3.2zM356.00 283.90h1v3.2h-1z" fill="#1a1a1a"/>
<text x="361.08" y="264.35" font-size="6.0" textLength="14.04" lengthAdjust="spacingAndGlyphs">(μM)</text>
<rect x="250.70" y="273.00" width="1.60" height="1" fill="#777"/>
<rect x="265.70" y="273.00" width="1.60" height="1" fill="#777"/>
<rect x="250.55" y="285.00" width="1.90" height="1" fill="#404040"/>
<path d="M264.90 285.00h3.2v1h-3.2zM266.00 283.90h1v3.2h-1z" fill="#1a1a1a"/>
<text x="225.86" y="275.80" font-size="6.6">2</text>
<text x="217.04" y="287.60" font-size="6.4" textLength="12.87" lengthAdjust="spacingAndGlyphs">LPS</text>
<text x="207.18" y="302.90" font-size="7.0" font-weight="bold">f</text>
<line x1="244.40" y1="306.60" x2="244.40" y2="383.20" stroke="#888" stroke-width="1"/>
<line x1="242.40" y1="383.20" x2="362.18" y2="383.20" stroke="#888" stroke-width="1"/>
<line x1="242.70" y1="383.20" x2="244.40" y2="383.20" stroke="#555" stroke-width="1"/>
<text x="234.71" y="385.84" font-size="6.8" textLength="3.21" lengthAdjust="spacingAndGlyphs">0</text>
<line x1="242.70" y1="373.62" x2="244.40" y2="373.62" stroke="#555" stroke-width="1"/>
<text x="228.28" y="376.26" font-size="6.8" textLength="9.64" lengthAdjust="spacingAndGlyphs">250</text>
<line x1="242.70" y1="364.05" x2="244.40" y2="364.05" stroke="#555" stroke-width="1"/>
<text x="228.28" y="366.69" font-size="6.8" textLength="9.64" lengthAdjust="spacingAndGlyphs">500</text>
<line x1="242.70" y1="354.47" x2="244.40" y2="354.47" stroke="#555" stroke-width="1"/>
<text x="228.28" y="357.11" font-size="6.8" textLength="9.64" lengthAdjust="spacingAndGlyphs">750</text>
<line x1="242.70" y1="344.90" x2="244.40" y2="344.90" stroke="#555" stroke-width="1"/>
<text x="225.06" y="347.54" font-size="6.8" textLength="12.86" lengthAdjust="spacingAndGlyphs">1000</text>
<line x1="242.70" y1="335.32" x2="244.40" y2="335.32" stroke="#555" stroke-width="1"/>
<text x="225.06" y="337.96" font-size="6.8" textLength="12.86" lengthAdjust="spacingAndGlyphs">1250</text>
<line x1="242.70" y1="325.75" x2="244.40" y2="325.75" stroke="#555" stroke-width="1"/>
<text x="225.06" y="328.39" font-size="6.8" textLength="12.86" lengthAdjust="spacingAndGlyphs">1500</text>
<line x1="242.70" y1="316.18" x2="244.40" y2="316.18" stroke="#555" stroke-width="1"/>
<text x="225.06" y="318.81" font-size="6.8" textLength="12.86" lengthAdjust="spacingAndGlyphs">1750</text>
<line x1="242.70" y1="306.60" x2="244.40" y2="306.60" stroke="#555" stroke-width="1"/>
<text x="225.06" y="309.24" font-size="6.8" textLength="12.86" lengthAdjust="spacingAndGlyphs">2000</text>
<text x="0" y="0" font-size="5.8" style="stroke-width:0.3px" text-anchor="middle" textLength="66.54" lengthAdjust="spacingAndGlyphs" transform="translate(220.86,344.70) rotate(-90)">Nitric Oxide (% of control)</text>
<rect x="248.70" y="379.60" width="6.10" height="3.60" fill="#fff" stroke="#666" stroke-width="1"/>
<rect x="263.74" y="316.50" width="6.10" height="66.70" fill="#b6b6b6" stroke="#707070" stroke-width="1"/>
<line x1="266.79" y1="309.40" x2="266.79" y2="316.00" stroke="#333" stroke-width="0.9"/>
<line x1="264.49" y1="309.40" x2="269.09" y2="309.40" stroke="#333" stroke-width="0.9"/>
<line x1="266.79" y1="316.00" x2="266.79" y2="322.60" stroke="#333" stroke-width="0.9"/>
<line x1="264.49" y1="322.60" x2="269.09" y2="322.60" stroke="#333" stroke-width="0.9"/>
<text x="264.84" y="309.58" font-size="6.4" style="stroke-width:0.3px">*</text>
<rect x="278.78" y="378.00" width="6.10" height="5.20" fill="#fff" stroke="#999" stroke-width="0.8"/>
<line x1="278.58" y1="378.00" x2="285.08" y2="378.00" stroke="#111" stroke-width="1.1"/>
<line x1="279.08" y1="382.80" x2="284.38" y2="378.40" stroke="#000" stroke-width="1.7"/>
<rect x="285.80" y="320.00" width="6.50" height="63.20" fill="#000"/>
<line x1="289.05" y1="314.20" x2="289.05" y2="320.00" stroke="#333" stroke-width="0.9"/>
<line x1="286.75" y1="314.20" x2="291.35" y2="314.20" stroke="#333" stroke-width="0.9"/>
<text x="287.40" y="314.28" font-size="6.4" style="stroke-width:0.3px">*</text>
<text x="280.73" y="389.67" font-size="6.6" textLength="6.61" lengthAdjust="spacingAndGlyphs">10</text>
<line x1="277.20" y1="390.50" x2="291.70" y2="390.50" stroke="#333" stroke-width="0.8"/>
<path d="M278.90 398.00h3.2v1h-3.2zM280.00 396.90h1v3.2h-1z" fill="#1a1a1a"/>
<path d="M285.90 398.00h3.2v1h-3.2zM287.00 396.90h1v3.2h-1z" fill="#1a1a1a"/>
<rect x="279.55" y="410.00" width="1.90" height="1" fill="#404040"/>
<path d="M285.90 410.00h3.2v1h-3.2zM287.00 408.90h1v3.2h-1z" fill="#1a1a1a"/>
<rect x="301.34" y="378.40" width="6.10" height="4.80" fill="#fff" stroke="#999" stroke-width="0.8"/>
<line x1="301.14" y1="378.40" x2="307.64" y2="378.40" stroke="#111" stroke-width="1.1"/>
<line x1="301.64" y1="382.80" x2="306.94" y2="378.80" stroke="#000" stroke-width="1.7"/>
<rect x="308.36" y="327.90" width="6.50" height="55.30" fill="#000"/>
<line x1="311.61" y1="321.10" x2="311.61" y2="327.90" stroke="#333" stroke-width="0.9"/>
<line x1="309.31" y1="321.10" x2="313.91" y2="321.10" stroke="#333" stroke-width="0.9"/>
<text x="309.96" y="321.18" font-size="6.4" style="stroke-width:0.3px">*</text>
<text x="302.57" y="389.67" font-size="6.6" textLength="6.61" lengthAdjust="spacingAndGlyphs">25</text>
<line x1="299.60" y1="390.50" x2="314.00" y2="390.50" stroke="#333" stroke-width="0.8"/>
<path d="M301.90 398.00h3.2v1h-3.2zM303.00 396.90h1v3.2h-1z" fill="#1a1a1a"/>
<path d="M308.90 398.00h3.2v1h-3.2zM310.00 396.90h1v3.2h-1z" fill="#1a1a1a"/>
<rect x="302.55" y="410.00" width="1.90" height="1" fill="#404040"/>
<path d="M308.90 410.00h3.2v1h-3.2zM310.00 408.90h1v3.2h-1z" fill="#1a1a1a"/>
<rect x="323.90" y="378.40" width="6.10" height="4.80" fill="#fff" stroke="#999" stroke-width="0.8"/>
<line x1="323.70" y1="378.40" x2="330.20" y2="378.40" stroke="#111" stroke-width="1.1"/>
<line x1="324.20" y1="382.80" x2="329.50" y2="378.80" stroke="#000" stroke-width="1.7"/>
<rect x="330.92" y="332.10" width="6.50" height="51.10" fill="#000"/>
<line x1="334.17" y1="327.80" x2="334.17" y2="332.10" stroke="#333" stroke-width="0.9"/>
<line x1="331.87" y1="327.80" x2="336.47" y2="327.80" stroke="#333" stroke-width="0.9"/>
<text x="330.65" y="325.38" font-size="6.4" style="stroke-width:0.3px">*</text>
<text x="335.18" y="325.65" font-size="6.5" textLength="3.25" lengthAdjust="spacingAndGlyphs" style="stroke-width:0.3px">#</text>
<text x="324.84" y="389.67" font-size="6.6" textLength="6.61" lengthAdjust="spacingAndGlyphs">50</text>
<line x1="322.60" y1="390.50" x2="337.40" y2="390.50" stroke="#333" stroke-width="0.8"/>
<path d="M323.90 398.00h3.2v1h-3.2zM325.00 396.90h1v3.2h-1z" fill="#1a1a1a"/>
<path d="M331.90 398.00h3.2v1h-3.2zM333.00 396.90h1v3.2h-1z" fill="#1a1a1a"/>
<rect x="324.55" y="410.00" width="1.90" height="1" fill="#404040"/>
<path d="M331.90 410.00h3.2v1h-3.2zM333.00 408.90h1v3.2h-1z" fill="#1a1a1a"/>
<rect x="346.46" y="378.40" width="6.10" height="4.80" fill="#fff" stroke="#999" stroke-width="0.8"/>
<line x1="346.26" y1="378.40" x2="352.76" y2="378.40" stroke="#111" stroke-width="1.1"/>
<line x1="346.76" y1="382.80" x2="352.06" y2="378.80" stroke="#000" stroke-width="1.7"/>
<rect x="353.48" y="333.00" width="6.50" height="50.20" fill="#000"/>
<line x1="356.73" y1="328.30" x2="356.73" y2="333.00" stroke="#333" stroke-width="0.9"/>
<line x1="354.43" y1="328.30" x2="359.03" y2="328.30" stroke="#333" stroke-width="0.9"/>
<text x="353.15" y="327.28" font-size="6.4" style="stroke-width:0.3px">*</text>
<text x="357.68" y="327.55" font-size="6.5" textLength="3.25" lengthAdjust="spacingAndGlyphs" style="stroke-width:0.3px">#</text>
<text x="346.28" y="389.67" font-size="6.6" textLength="9.91" lengthAdjust="spacingAndGlyphs">100</text>
<line x1="345.60" y1="390.50" x2="360.00" y2="390.50" stroke="#333" stroke-width="0.8"/>
<path d="M346.90 398.00h3.2v1h-3.2zM348.00 396.90h1v3.2h-1z" fill="#1a1a1a"/>
<path d="M354.90 398.00h3.2v1h-3.2zM356.00 396.90h1v3.2h-1z" fill="#1a1a1a"/>
<rect x="347.55" y="410.00" width="1.90" height="1" fill="#404040"/>
<path d="M354.90 410.00h3.2v1h-3.2zM356.00 408.90h1v3.2h-1z" fill="#1a1a1a"/>
<text x="361.38" y="389.65" font-size="6.0" textLength="14.04" lengthAdjust="spacingAndGlyphs">(μM)</text>
<rect x="250.70" y="398.00" width="1.60" height="1" fill="#777"/>
<rect x="265.70" y="398.00" width="1.60" height="1" fill="#777"/>
<rect x="250.55" y="410.00" width="1.90" height="1" fill="#404040"/>
<path d="M264.90 410.00h3.2v1h-3.2zM266.00 408.90h1v3.2h-1z" fill="#1a1a1a"/>
<text x="226.61" y="400.57" font-size="6.6">3</text>
<text x="217.84" y="412.60" font-size="6.4" textLength="12.87" lengthAdjust="spacingAndGlyphs">LPS</text>
<text x="206.82" y="435.00" font-size="7.0" font-weight="bold">h</text>
<line x1="243.90" y1="438.30" x2="243.90" y2="514.90" stroke="#888" stroke-width="1"/>
<line x1="241.90" y1="514.90" x2="361.18" y2="514.90" stroke="#888" stroke-width="1"/>
<line x1="242.20" y1="514.90" x2="243.90" y2="514.90" stroke="#555" stroke-width="1"/>
<text x="234.21" y="517.54" font-size="6.8" textLength="3.21" lengthAdjust="spacingAndGlyphs">0</text>
<line x1="242.20" y1="503.96" x2="243.90" y2="503.96" stroke="#555" stroke-width="1"/>
<text x="227.78" y="506.60" font-size="6.8" textLength="9.64" lengthAdjust="spacingAndGlyphs">250</text>
<line x1="242.20" y1="493.01" x2="243.90" y2="493.01" stroke="#555" stroke-width="1"/>
<text x="227.78" y="495.65" font-size="6.8" textLength="9.64" lengthAdjust="spacingAndGlyphs">500</text>
<line x1="242.20" y1="482.07" x2="243.90" y2="482.07" stroke="#555" stroke-width="1"/>
<text x="227.78" y="484.71" font-size="6.8" textLength="9.64" lengthAdjust="spacingAndGlyphs">750</text>
<line x1="242.20" y1="471.13" x2="243.90" y2="471.13" stroke="#555" stroke-width="1"/>
<text x="224.56" y="473.77" font-size="6.8" textLength="12.86" lengthAdjust="spacingAndGlyphs">1000</text>
<line x1="242.20" y1="460.19" x2="243.90" y2="460.19" stroke="#555" stroke-width="1"/>
<text x="224.56" y="462.82" font-size="6.8" textLength="12.86" lengthAdjust="spacingAndGlyphs">1250</text>
<line x1="242.20" y1="449.24" x2="243.90" y2="449.24" stroke="#555" stroke-width="1"/>
<text x="224.56" y="451.88" font-size="6.8" textLength="12.86" lengthAdjust="spacingAndGlyphs">1500</text>
<line x1="242.20" y1="438.30" x2="243.90" y2="438.30" stroke="#555" stroke-width="1"/>
<text x="224.56" y="440.94" font-size="6.8" textLength="12.86" lengthAdjust="spacingAndGlyphs">1750</text>
<text x="0" y="0" font-size="5.8" style="stroke-width:0.3px" text-anchor="middle" textLength="62.39" lengthAdjust="spacingAndGlyphs" transform="translate(220.16,471.00) rotate(-90)">Nitric Oxide (% of control)</text>
<rect x="247.70" y="511.00" width="6.10" height="3.90" fill="#fff" stroke="#666" stroke-width="1"/>
<rect x="262.74" y="449.70" width="6.10" height="65.20" fill="#b6b6b6" stroke="#707070" stroke-width="1"/>
<line x1="265.79" y1="442.80" x2="265.79" y2="449.20" stroke="#333" stroke-width="0.9"/>
<line x1="263.49" y1="442.80" x2="268.09" y2="442.80" stroke="#333" stroke-width="0.9"/>
<line x1="265.79" y1="449.20" x2="265.79" y2="455.60" stroke="#333" stroke-width="0.9"/>
<line x1="263.49" y1="455.60" x2="268.09" y2="455.60" stroke="#333" stroke-width="0.9"/>
<text x="263.84" y="443.28" font-size="6.4" style="stroke-width:0.3px">*</text>
<rect x="277.78" y="510.00" width="6.10" height="4.90" fill="#fff" stroke="#999" stroke-width="0.8"/>
<line x1="277.58" y1="510.00" x2="284.08" y2="510.00" stroke="#111" stroke-width="1.1"/>
<line x1="278.08" y1="514.50" x2="283.38" y2="510.40" stroke="#000" stroke-width="1.7"/>
<rect x="284.80" y="456.00" width="6.50" height="58.90" fill="#000"/>
<line x1="288.05" y1="450.20" x2="288.05" y2="456.00" stroke="#333" stroke-width="0.9"/>
<line x1="285.75" y1="450.20" x2="290.35" y2="450.20" stroke="#333" stroke-width="0.9"/>
<text x="286.40" y="449.88" font-size="6.4" style="stroke-width:0.3px">*</text>
<text x="278.88" y="521.37" font-size="6.6" textLength="6.61" lengthAdjust="spacingAndGlyphs">10</text>
<line x1="275.30" y1="522.50" x2="289.70" y2="522.50" stroke="#333" stroke-width="0.8"/>
<path d="M276.90 530.00h3.2v1h-3.2zM278.00 528.90h1v3.2h-1z" fill="#1a1a1a"/>
<path d="M284.90 530.00h3.2v1h-3.2zM286.00 528.90h1v3.2h-1z" fill="#1a1a1a"/>
<rect x="277.55" y="542.00" width="1.90" height="1" fill="#404040"/>
<path d="M284.90 542.00h3.2v1h-3.2zM286.00 540.90h1v3.2h-1z" fill="#1a1a1a"/>
<rect x="300.34" y="510.40" width="6.10" height="4.50" fill="#fff" stroke="#999" stroke-width="0.8"/>
<line x1="300.14" y1="510.40" x2="306.64" y2="510.40" stroke="#111" stroke-width="1.1"/>
<line x1="300.64" y1="514.50" x2="305.94" y2="510.80" stroke="#000" stroke-width="1.7"/>
<rect x="307.36" y="463.80" width="6.50" height="51.10" fill="#000"/>
<line x1="310.61" y1="459.40" x2="310.61" y2="463.80" stroke="#333" stroke-width="0.9"/>
<line x1="308.31" y1="459.40" x2="312.91" y2="459.40" stroke="#333" stroke-width="0.9"/>
<text x="308.96" y="459.28" font-size="6.4" style="stroke-width:0.3px">*</text>
<text x="300.72" y="521.37" font-size="6.6" textLength="6.61" lengthAdjust="spacingAndGlyphs">25</text>
<line x1="298.00" y1="522.50" x2="312.40" y2="522.50" stroke="#333" stroke-width="0.8"/>
<path d="M299.90 530.00h3.2v1h-3.2zM301.00 528.90h1v3.2h-1z" fill="#1a1a1a"/>
<path d="M307.90 530.00h3.2v1h-3.2zM309.00 528.90h1v3.2h-1z" fill="#1a1a1a"/>
<rect x="300.55" y="542.00" width="1.90" height="1" fill="#404040"/>
<path d="M307.90 542.00h3.2v1h-3.2zM309.00 540.90h1v3.2h-1z" fill="#1a1a1a"/>
<rect x="322.90" y="510.40" width="6.10" height="4.50" fill="#fff" stroke="#999" stroke-width="0.8"/>
<line x1="322.70" y1="510.40" x2="329.20" y2="510.40" stroke="#111" stroke-width="1.1"/>
<line x1="323.20" y1="514.50" x2="328.50" y2="510.80" stroke="#000" stroke-width="1.7"/>
<rect x="329.92" y="469.50" width="6.50" height="45.40" fill="#000"/>
<line x1="333.17" y1="465.70" x2="333.17" y2="469.50" stroke="#333" stroke-width="0.9"/>
<line x1="330.87" y1="465.70" x2="335.47" y2="465.70" stroke="#333" stroke-width="0.9"/>
<text x="328.65" y="462.88" font-size="6.4" style="stroke-width:0.3px">*</text>
<text x="333.18" y="463.15" font-size="6.5" textLength="3.25" lengthAdjust="spacingAndGlyphs" style="stroke-width:0.3px">#</text>
<text x="323.34" y="521.37" font-size="6.6" textLength="6.61" lengthAdjust="spacingAndGlyphs">50</text>
<line x1="321.30" y1="522.50" x2="335.70" y2="522.50" stroke="#333" stroke-width="0.8"/>
<path d="M321.90 530.00h3.2v1h-3.2zM323.00 528.90h1v3.2h-1z" fill="#1a1a1a"/>
<path d="M329.90 530.00h3.2v1h-3.2zM331.00 528.90h1v3.2h-1z" fill="#1a1a1a"/>
<rect x="322.55" y="542.00" width="1.90" height="1" fill="#404040"/>
<path d="M329.90 542.00h3.2v1h-3.2zM331.00 540.90h1v3.2h-1z" fill="#1a1a1a"/>
<rect x="345.46" y="510.40" width="6.10" height="4.50" fill="#fff" stroke="#999" stroke-width="0.8"/>
<line x1="345.26" y1="510.40" x2="351.76" y2="510.40" stroke="#111" stroke-width="1.1"/>
<line x1="345.76" y1="514.50" x2="351.06" y2="510.80" stroke="#000" stroke-width="1.7"/>
<rect x="352.48" y="480.10" width="6.50" height="34.80" fill="#000"/>
<line x1="355.73" y1="477.20" x2="355.73" y2="480.10" stroke="#333" stroke-width="0.9"/>
<line x1="353.43" y1="477.20" x2="358.03" y2="477.20" stroke="#333" stroke-width="0.9"/>
<text x="350.65" y="474.48" font-size="6.4" style="stroke-width:0.3px">*</text>
<text x="355.18" y="474.75" font-size="6.5" textLength="3.25" lengthAdjust="spacingAndGlyphs" style="stroke-width:0.3px">#</text>
<text x="344.63" y="521.37" font-size="6.6" textLength="9.91" lengthAdjust="spacingAndGlyphs">100</text>
<line x1="344.00" y1="522.50" x2="358.40" y2="522.50" stroke="#333" stroke-width="0.8"/>
<path d="M345.90 530.00h3.2v1h-3.2zM347.00 528.90h1v3.2h-1z" fill="#1a1a1a"/>
<path d="M353.90 530.00h3.2v1h-3.2zM355.00 528.90h1v3.2h-1z" fill="#1a1a1a"/>
<rect x="346.55" y="542.00" width="1.90" height="1" fill="#404040"/>
<path d="M353.90 542.00h3.2v1h-3.2zM355.00 540.90h1v3.2h-1z" fill="#1a1a1a"/>
<text x="359.78" y="521.35" font-size="6.0" textLength="14.04" lengthAdjust="spacingAndGlyphs">(μM)</text>
<rect x="248.70" y="530.00" width="1.60" height="1" fill="#777"/>
<rect x="264.70" y="530.00" width="1.60" height="1" fill="#777"/>
<rect x="248.55" y="542.00" width="1.90" height="1" fill="#404040"/>
<path d="M263.90 542.00h3.2v1h-3.2zM265.00 540.90h1v3.2h-1z" fill="#1a1a1a"/>
<text x="224.42" y="532.57" font-size="6.6">4</text>
<text x="215.74" y="544.50" font-size="6.4" textLength="12.87" lengthAdjust="spacingAndGlyphs">LPS</text>
<rect x="118.7" y="3.4" width="6.7" height="6.6" fill="#fff" stroke="#666" stroke-width="1"/>
<text x="126.73" y="9.10" font-size="6.4" textLength="10.04" lengthAdjust="spacingAndGlyphs">CTL</text>
<rect x="145.5" y="3.1" width="6" height="6.3" fill="#b4b4b4" stroke="#666" stroke-width="1"/>
<text x="153.46" y="9.10" font-size="6.4" textLength="12.54" lengthAdjust="spacingAndGlyphs">LPS</text>
<rect x="170.6" y="2.7" width="6.7" height="6.9" fill="#000"/>
<text x="178.41" y="9.10" font-size="6.4" textLength="47.37" lengthAdjust="spacingAndGlyphs">LPS + Compound</text>
<rect x="231.9" y="2.6" width="6.8" height="6.9" fill="url(#hatch2)" stroke="#555" stroke-width="1"/>
<text x="240.69" y="9.10" font-size="6.4" textLength="30.41" lengthAdjust="spacingAndGlyphs">Compound</text>
</svg>
</body></html>
